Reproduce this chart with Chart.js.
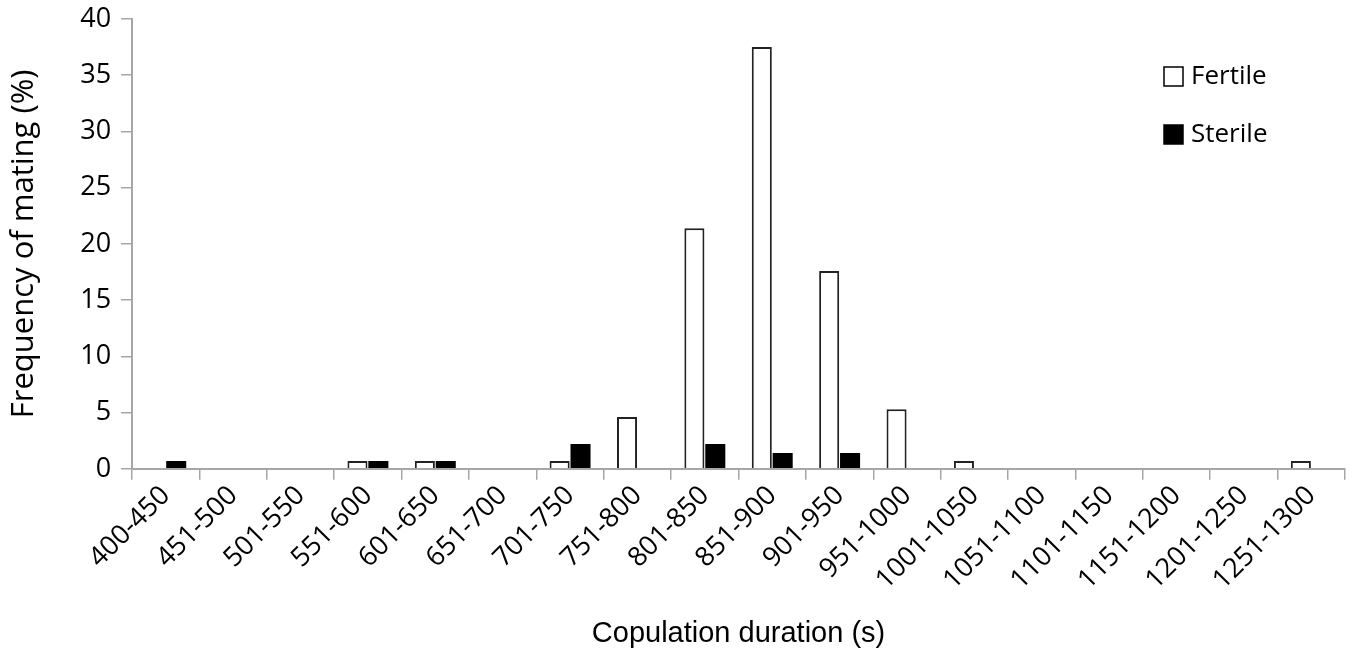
<!DOCTYPE html>
<html>
<head>
<meta charset="utf-8">
<script src="https://cdn.jsdelivr.net/npm/chart.js@4.4.0/dist/chart.umd.min.js"></script>
<style>
  html, body { margin: 0; padding: 0; background: #fff; }
  #wrap { width: 1363px; height: 651px; }
</style>
</head>
<body>
<div id="wrap"><canvas id="myChart"></canvas></div>
<script>
const categories = [
  "400-450", "451-500", "501-550", "551-600", "601-650", "651-700",
  "701-750", "751-800", "801-850", "851-900", "901-950", "951-1000",
  "1001-1050", "1051-1100", "1101-1150", "1151-1200", "1201-1250", "1251-1300",
];
const fertile = [0, 0, 0, 0.7, 0.7, 0, 0.7, 4.6, 21.4, 37.5, 17.6, 5.3, 0.7, 0, 0, 0, 0, 0.7];
const sterile = [0.7, 0, 0, 0.7, 0.7, 0, 2.2, 0, 2.2, 1.4, 1.4, 0, 0, 0, 0, 0, 0, 0];
const yTicks = [0, 5, 10, 15, 20, 25, 30, 35, 40];

const axisColor = "#a6a6a6";
const labelFont = "'Open Sans', 'DejaVu Sans', sans-serif";

// legend drawn inside the plot, top right
const insideLegend = {
  id: "insideLegend",
  afterDraw(chart) {
    const c = chart.ctx;
    const x = chart.chartArea.right - 181;
    const rows = [
      { text: "Fertile", fill: "#fff", y: 76 },
      { text: "Sterile", fill: "#000", y: 134 },
    ];
    c.save();
    c.font = "26px " + labelFont;
    c.textBaseline = "middle";
    rows.forEach((r) => {
      c.fillStyle = r.fill;
      c.fillRect(x, r.y - 9, 19, 19);
      c.strokeStyle = "#000";
      c.lineWidth = 1.5;
      c.strokeRect(x, r.y - 9, 19, 19);
      c.fillStyle = "#000";
      c.fillText(r.text, x + 27, r.y + 1);
    });
    c.restore();
  },
};

const ctx = document.getElementById("myChart");

new Chart(ctx, {
  type: "bar",
  data: {
    labels: categories,
    datasets: [
      {
        label: "Fertile",
        data: fertile,
        backgroundColor: "#ffffff",
        borderColor: "#222222",
        borderWidth: 2,
        borderSkipped: "bottom",
      },
      {
        label: "Sterile",
        data: sterile,
        backgroundColor: "#000000",
        borderColor: "#000000",
        borderWidth: 0,
      },
    ],
  },
  options: {
    responsive: true,
    maintainAspectRatio: false,
    animation: false,
    layout: { padding: { top: 0, right: 18, left: 6, bottom: 0 } },
    datasets: {
      bar: { categoryPercentage: 0.62, barPercentage: 0.96 },
    },
    plugins: {
      legend: { display: false },
      tooltip: { enabled: false },
    },
    scales: {
      x: {
        grid: {
          offset: true,
          drawOnChartArea: false,
          color: axisColor,
          tickLength: 11,
          lineWidth: 1.5,
        },
        border: { color: axisColor, width: 2 },
        ticks: {
          color: "#000",
          font: { family: labelFont, size: 27 },
          maxRotation: 45,
          minRotation: 45,
          autoSkip: false,
          padding: 0,
        },
        title: {
          display: true,
          text: "Copulation duration (s)",
          color: "#000",
          font: { family: "'Liberation Sans', Arial, sans-serif", size: 29 },
          padding: { top: 20, bottom: 0 },
        },
      },
      y: {
        min: 0,
        max: 40,
        afterBuildTicks(axis) {
          axis.ticks = yTicks.map((v) => ({ value: v }));
        },
        afterFit(axis) {
          axis.paddingTop = 19;
        },
        grid: {
          drawOnChartArea: false,
          color: axisColor,
          tickLength: 11,
          lineWidth: 1.5,
        },
        border: { color: axisColor, width: 2 },
        ticks: {
          color: "#000",
          font: { family: labelFont, size: 27 },
          padding: 10,
        },
        title: {
          display: true,
          text: "Frequency of mating (%)",
          color: "#000",
          font: { family: labelFont, size: 31 },
          padding: { top: 0, bottom: 27 },
        },
      },
    },
  },
  plugins: [insideLegend],
});
</script>
</body>
</html>
